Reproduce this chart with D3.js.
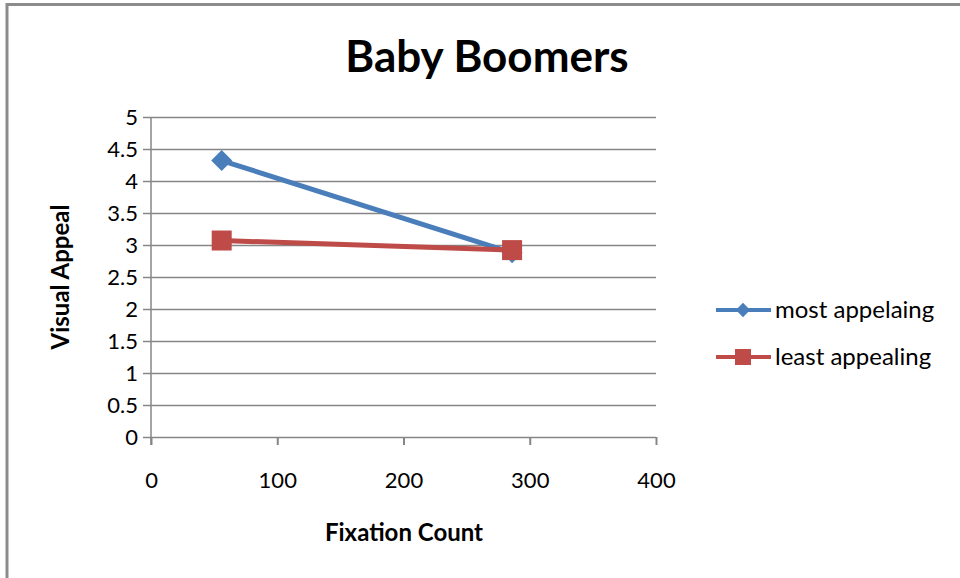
<!DOCTYPE html>
<html>
<head>
<meta charset="utf-8">
<script src="https://cdn.jsdelivr.net/npm/d3@7"></script>
<style>
  body { margin: 0; background: #fff; }
  text { font-family: Lato, "Open Sans", sans-serif; fill: #000; }
</style>
</head>
<body>
<svg id="chart" width="960" height="578"></svg>
<script>
// values
const fixationCount = [56, 286];
const mostAppealing = [4.32, 2.88];
const leastAppealing = [3.07, 2.92];
const seriesNames = ["most appelaing", "least appealing"];
const xTicks = [0, 100, 200, 300, 400];
const yTicks = [0, 0.5, 1, 1.5, 2, 2.5, 3, 3.5, 4, 4.5, 5];

const svg = d3.select("#chart");

// outer frame (top + left edges only visible)
svg.append("path")
    .attr("d", "M7,578 V4.5 H960")
    .attr("fill", "none")
    .attr("stroke", "#8c8c8c")
    .attr("stroke-width", 3);

const x = d3.scaleLinear().domain([0, 400]).range([151, 656]);
const y = d3.scaleLinear().domain([0, 5]).range([437, 117]);

// gridlines
svg.append("g")
    .selectAll("line")
    .data(yTicks)
    .join("line")
    .attr("x1", 143).attr("x2", x(400))
    .attr("y1", d => Math.round(y(d)) + 0.5)
    .attr("y2", d => Math.round(y(d)) + 0.5)
    .attr("stroke", "#868686")
    .attr("stroke-width", 1.5);

// y axis
const yAxis = d3.axisLeft(y)
    .tickValues(yTicks)
    .tickSize(0)
    .tickPadding(13)
    .tickFormat(d3.format("~g"));

svg.append("g")
    .attr("transform", `translate(${x(0)},0)`)
    .call(yAxis)
    .call(g => g.select(".domain").remove())
    .call(g => g.selectAll("text").attr("font-size", 22).attr("dy", "0.35em"));

svg.append("line")
    .attr("x1", x(0)).attr("x2", x(0))
    .attr("y1", y(5)).attr("y2", 445)
    .attr("stroke", "#868686").attr("stroke-width", 1.5);

// x axis
const xAxis = d3.axisBottom(x)
    .tickValues(xTicks)
    .tickSize(8)
    .tickPadding(27);

svg.append("g")
    .attr("transform", `translate(0,${y(0)})`)
    .call(xAxis)
    .call(g => g.select(".domain").remove())
    .call(g => g.selectAll("line").attr("stroke", "#868686").attr("stroke-width", 2))
    .call(g => g.selectAll("text").attr("font-size", 22));

// titles
svg.append("text")
    .attr("x", 487).attr("y", 72)
    .attr("text-anchor", "middle")
    .attr("font-size", 44)
    .attr("font-weight", "bold")
    .text("Baby Boomers");

svg.append("text")
    .attr("transform", "translate(69,277) rotate(-90)")
    .attr("text-anchor", "middle")
    .attr("font-size", 24)
    .attr("font-weight", "bold")
    .text("Visual Appeal");

svg.append("text")
    .attr("x", 404).attr("y", 541)
    .attr("text-anchor", "middle")
    .attr("font-size", 24)
    .attr("font-weight", "bold")
    .text("Fixation Count");

// series
const blue = "#4a7ebb";
const red = "#be4b48";

const line = d3.line()
    .x(d => x(d[0]))
    .y(d => y(d[1]));

const mostData = d3.zip(fixationCount, mostAppealing);
const leastData = d3.zip(fixationCount, leastAppealing);

svg.append("path")
    .datum(mostData)
    .attr("d", line)
    .attr("fill", "none")
    .attr("stroke", blue)
    .attr("stroke-width", 5);

svg.append("g")
    .selectAll("path")
    .data(mostData)
    .join("path")
    .attr("d", d3.symbol(d3.symbolDiamond2, 280))
    .attr("transform", d => `translate(${x(d[0])},${y(d[1])})`)
    .attr("fill", blue);

svg.append("path")
    .datum(leastData)
    .attr("d", line)
    .attr("fill", "none")
    .attr("stroke", red)
    .attr("stroke-width", 5);

svg.append("g")
    .selectAll("rect")
    .data(leastData)
    .join("rect")
    .attr("x", d => x(d[0]) - 10)
    .attr("y", d => y(d[1]) - 10)
    .attr("width", 20).attr("height", 20)
    .attr("fill", red);

// legend
const legend = svg.append("g");
const rows = [
    { name: seriesNames[0], color: blue, shape: "diamond", y: 310 },
    { name: seriesNames[1], color: red, shape: "square", y: 357 }
];
rows.forEach(r => {
    legend.append("line")
        .attr("x1", 716).attr("x2", 771)
        .attr("y1", r.y).attr("y2", r.y)
        .attr("stroke", r.color).attr("stroke-width", 4);
    if (r.shape === "diamond") {
        legend.append("path")
            .attr("d", d3.symbol(d3.symbolDiamond2, 130))
            .attr("transform", `translate(743,${r.y})`)
            .attr("fill", r.color);
    } else {
        legend.append("rect")
            .attr("x", 735).attr("y", r.y - 8)
            .attr("width", 16).attr("height", 16)
            .attr("fill", r.color);
    }
    legend.append("text")
        .attr("x", 775).attr("y", r.y)
        .attr("dy", "0.35em")
        .attr("font-size", 24)
        .text(r.name);
});
</script>
</body>
</html>
